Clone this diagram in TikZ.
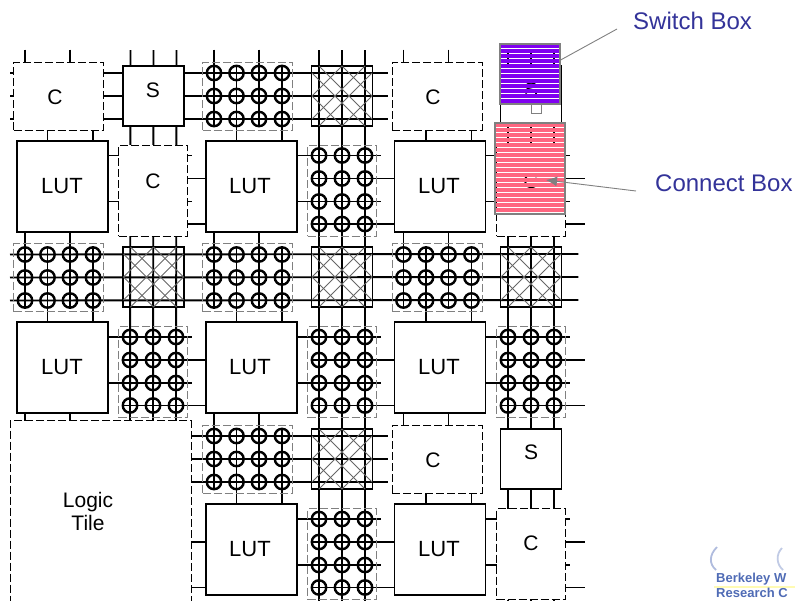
\documentclass[tikz,border=0pt]{standalone}
\usepackage{fontspec}
\setmainfont{Liberation Sans}
\usepackage{tikz}
\usetikzlibrary{arrows.meta,calc,backgrounds}
\definecolor{swpurple}{HTML}{8000F0}
\definecolor{cbpink}{HTML}{FF6680}
\definecolor{calloutblue}{HTML}{333399}
\definecolor{logoblue}{HTML}{4F6BB5}
\tikzset{wire/.style={line width=1.9pt},
 lutbox/.style={draw=black,line width=1.9pt,fill=white,minimum width=91pt,minimum height=91pt,inner sep=0pt},
 sbox/.style={draw=black,line width=1.9pt,fill=white,minimum width=61pt,minimum height=60pt,inner sep=0pt},
 xbox/.style={draw=black,line width=1.9pt,minimum width=61pt,minimum height=60pt,inner sep=0pt},
 chbox/.style={draw=black,line width=1pt,dash pattern=on 8pt off 3pt,fill=white,minimum width=90pt,minimum height=68pt,inner sep=0pt},
 cvbox/.style={chbox,minimum width=69pt,minimum height=91pt},
 ghbox/.style={draw=gray,line width=1pt,dash pattern=on 8pt off 3pt,minimum width=90pt,minimum height=68pt,inner sep=0pt},
 gvbox/.style={ghbox,minimum width=69pt,minimum height=91pt},
 xing/.style={line width=2.4pt},hatch/.style={draw=black!60,line width=.9pt},
 lbl/.style={inner sep=0pt,font=\fontsize{21}{23}\selectfont,align=center},
 call/.style={inner sep=0pt,anchor=west,text=calloutblue,font=\fontsize{24}{24}\selectfont},
 lead/.style={draw=gray,line width=.9pt}}
\begin{document}
\begin{tikzpicture}[x=1pt,y=-1pt]
\useasboundingbox (0,0) rectangle (795,600);
\clip (0,0) rectangle (795,600);
\node[lutbox] (l01) at (62.5,186.5) {};
\node[lutbox] (l11) at (251.5,186.5) {};
\node[lutbox] (l21) at (440,186.5) {};
\node[lutbox] (l03) at (62.5,367.5) {};
\node[lutbox] (l13) at (251.5,367.5) {};
\node[lutbox] (l23) at (440,367.5) {};
\node[lutbox] (l15) at (251.5,549.5) {};
\node[lutbox] (l25) at (440,549.5) {};
\foreach \nm/\x/\y/\sty in {h00/58.5/96/chbox,h10/247.5/96/ghbox,h20/437/96/chbox,
 h02/58.5/277.5/ghbox,h12/247.5/277.5/ghbox,h22/437/277.5/ghbox,
 h14/247.5/459/ghbox,h24/437/459/chbox,
 v01/153/190.5/cvbox,v11/342/190.5/gvbox,v21/531/190.5/cvbox,
 v03/153/372/gvbox,v13/342/372/gvbox,v23/531/372/gvbox,
 v15/342/554/gvbox,v25/531/554/cvbox,
 j00/153.5/96/sbox,j10/342/96/xbox,j20/531/96/sbox,
 j02/153.5/277/xbox,j12/342/277/xbox,j22/531/277/xbox,
 j14/342/459/xbox,j24/531/459/sbox}
 \node[\sty] (\nm) at (\x,\y) {};
\node[draw=black,line width=1pt,dash pattern=on 8pt off 3pt,fill=white,minimum width=181pt,minimum height=200pt,inner sep=0pt] (tile) at (100.5,520.5) {};
% lattice inside the switch boxes
\foreach \nm in {j10,j02,j12,j22,j14}
 \foreach \p/\q/\r/\s in {0/-30/30/0,-23/-30/30/23,-30/-23/23/30,-30/0/0/30,
  0/-30/-30/0,23/-30/-30/23,30/-23/-23/30,30/0/0/30}
  \draw[hatch] ($(\nm)+(\p,\q)$) -- ($(\nm)+(\r,\s)$);
\begin{pgfonlayer}{background}
\foreach \dy in {-23,0,23} {
 \draw[wire] ($(h00.west)+(-3,\dy)$) -- ($(h20.west)+(-4,\dy)$);
 \draw[wire] ($(h02.west)+(-3,\dy)$) -- ($(j22.east)+(16,\dy)$);
 \draw[wire] ($(h14.west)+(-12,\dy)$) -- ($(h24.west)+(-4,\dy)$);
 \draw[wire] ($(j00.north)+(\dy,-15)$) -- ($(v03.south)+(\dy,3)$);
 \draw[wire] ($(j10.north)+(\dy,-15)$) -- ($(v15.south)+(\dy,1)$);
 \draw[wire] ($(j20.north)+(\dy,-15)$) -- ($(v25.south)+(\dy,1)$);
}
\foreach \nm in {h00,h10,h20,h02,h12,h22,h14,h24} {
 \foreach \dx in {-33.5,11.5} \draw[wire] ($(\nm.north)+(\dx,-12)$) -- ($(\nm)+(\dx,30)$);
 \foreach \dx in {-11,34.5} \draw[wire] ($(\nm)+(\dx,-30)$) -- ($(\nm.south)+(\dx,11)$);
}
\foreach \nm in {v01,v11,v21,v03,v13,v23,v15,v25} {
 \foreach \dy in {-35,11} \draw[wire] ($(\nm.west)+(-11,\dy)$) -- ($(\nm.east)+(4,\dy)$);
 \foreach \dy in {-12,33.5} \draw[wire] ($(\nm)+(-30,\dy)$) -- ($(\nm.east)+(19,\dy)$);
}
\foreach \dx in {-37.5,7.5} \draw[wire] ($(l03.south)+(\dx,0)$) -- ($(l03.south)+(\dx,8)$);
\coordinate (pina) at ($(v15)+(0,-12)$);
\coordinate (pinb) at ($(v15)+(0,33.5)$);
\draw[wire] (tile.east |- pina) -- (l15.west |- pina);
\draw[wire] (tile.east |- pinb) -- (l15.west |- pinb);
\end{pgfonlayer}
\foreach \nm in {h10,h02,h12,h22,h14}
 \foreach \dx in {-33.5,-11,11.5,34.5}
  \foreach \dy in {-23,0,23}
   \draw[xing] ($(\nm)+(\dx,\dy)$) circle (7.2);
\foreach \nm in {v11,v03,v13,v23,v15}
 \foreach \dx in {-23,0,23}
  \foreach \dy in {-35,-12,11,33.5}
   \draw[xing] ($(\nm)+(\dx,\dy)$) circle (7.2);
\foreach \nm/\x/\y in {lut01/62/186,lut11/250/186,lut21/439/186,lut03/62/367,lut13/250/367,lut23/439/367,lut15/250/549,lut25/439/549}
 \node[lbl,font=\fontsize{22}{24}\selectfont] (\nm) at (\x,\y) {LUT};
\foreach \nm/\x/\y in {cc00/55/97,cc01/153/181,cc20/433/97,cc21/531/181,cc24/433/460,cc25/531/543}
 \node[lbl] (\nm) at (\x,\y) {C};
\foreach \nm/\x/\y in {ss00/153/90,ss20/531/90,ss24/531/452}
 \node[lbl] (\nm) at (\x,\y) {S};
\node[lbl] (tiletxt) at (88,511) {Logic\\Tile};
% highlights over the right column
\foreach \y in {44,49,...,99} \fill[swpurple] (500,\y) rectangle (560,\y+4);
\node[draw=gray,line width=1.2pt,minimum width=60pt,minimum height=60pt,inner sep=0pt] (swmark) at (530,74) {};
\foreach \y in {123,128,...,208} \fill[cbpink] (495,\y) rectangle (565,\y+4);
\node[draw=gray,line width=1.2pt,minimum width=70pt,minimum height=91pt,inner sep=0pt] (cbmark) at (530,168.5) {};
\node[draw=gray,line width=1pt,fill=white,minimum width=10pt,minimum height=9pt,inner sep=0pt] (swstub) at (536,108.5) {};
\node[call] (swtxt) at (633,21) {Switch Box};
\node[call] (cbtxt) at (655,183) {Connect Box};
\coordinate (swfrom) at (617,29);
\coordinate (cbfrom) at (636,191);
\coordinate (cbtip) at (546,180);
\draw[lead] (swfrom) -- (swmark.east |- 0,60);
\draw[lead,-{Latex[length=11pt,width=10pt]}] (cbfrom) -- (cbtip);
% logo in the corner
\draw[draw=logoblue!45,line width=1.8pt] (717,547) .. controls (709,555) and (709,564) .. (716,570);
\draw[draw=logoblue!35,line width=1.8pt] (782,548) .. controls (776,554) and (776,564) .. (783,570);
\fill[yellow!30] (714,586) rectangle (795,588);
\node[inner sep=0pt,anchor=west,text=logoblue,font=\fontsize{13}{13}\selectfont\bfseries] (logoa) at (716,579) {Berkeley W};
\node[inner sep=0pt,anchor=west,text=logoblue,font=\fontsize{13}{13}\selectfont\bfseries] (logob) at (716,593) {Research C};
\end{tikzpicture}
\end{document}
